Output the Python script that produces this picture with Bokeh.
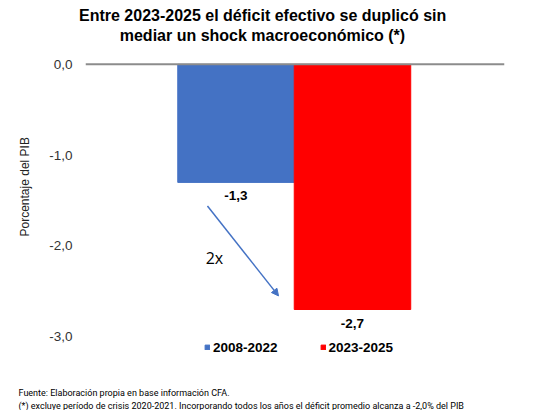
from bokeh.plotting import figure
from bokeh.models import (ColumnDataSource, Range1d, FixedTicker, Span, Label, Title,
                          Legend, LegendItem, Arrow, NormalHead)
from bokeh.core.properties import value
from bokeh.embed import file_html
from bokeh.resources import INLINE

# data
periods = ["2008-2022", "2023-2025"]
deficit = [-1.3, -2.7]
bar_labels = ["-1,3", "-2,7"]
colors = ["#4472C4", "#FF0000"]
y_ticks = [0, -1, -2, -3]
y_tick_labels = ["0,0", "-1,0", "-2,0", "-3,0"]

title_lines = ["Entre 2023-2025 el déficit efectivo se duplicó sin",
               "mediar un shock macroeconómico (*)"]
notes = ["Fuente: Elaboración propia en base información CFA.",
         "(*) excluye período de crisis 2020-2021. Incorporando todos los años el déficit promedio alcanza a -2,0% del PIB"]
y_title = "Porcentaje del PIB"

xs = list(range(len(periods)))
source = ColumnDataSource(data=dict(x=xs, top=deficit, label=bar_labels,
                                    color=colors, period=periods))

p = figure(frame_width=419, frame_height=357, output_backend="svg", toolbar_location=None,
           x_range=Range1d(-1.292, 2.305), y_range=Range1d(-3.537, 0.395),
           x_axis_type=None, min_border_left=85, min_border_right=16,
           min_border_top=0, min_border_bottom=0)
p.outline_line_color = None
p.grid.visible = False
p.background_fill_color = "white"

bars = p.vbar(x="x", top="top", bottom=0, width=1.0, color="color", source=source)

# value labels under the bars
p.text(x="x", y="top", text="label", source=source, text_align="center",
       text_baseline="top", y_offset=9, text_font=value("Liberation Sans"),
       text_font_size="13.5px", text_font_style="bold", text_color="black")

# zero line
p.add_layout(Span(location=0, dimension="width", line_color="#8c8c8c", line_width=2))

# y axis
yax = p.yaxis[0]
yax.ticker = FixedTicker(ticks=y_ticks)
yax.major_label_overrides = dict(zip(y_ticks, y_tick_labels))
yax.axis_line_color = None
yax.major_tick_line_color = None
yax.minor_tick_line_color = None
yax.major_tick_out = 0
yax.major_label_standoff = 13
yax.major_label_text_font = "Liberation Sans"
yax.major_label_text_font_size = "13.5px"
yax.major_label_text_color = "#333333"

p.add_layout(Title(text=y_title, align="left", offset=149, standoff=28,
                   vertical_align="middle", text_font="Liberation Sans",
                   text_font_size="12px", text_font_style="normal",
                   text_color="#222222"), "left")

# arrow and 2x annotation
p.add_layout(Arrow(end=NormalHead(size=7, fill_color="#4472C4", line_color="#4472C4"),
                   x_start=xs[0] - 0.245, y_start=deficit[0] - 0.26,
                   x_end=xs[1] - 0.635, y_end=deficit[1] + 0.15,
                   line_color="#4472C4", line_width=1.5))
p.text(x=[xs[0] - 0.185], y=[-2.13], text=["2x"], text_align="center",
       text_baseline="middle", text_font=value("Open Sans"), text_font_size="16px",
       text_color="black")

# legend
legend = Legend(items=[LegendItem(label=periods[i], renderers=[bars], index=i)
                       for i in range(len(periods))],
                orientation="horizontal", location=(119, 30), padding=0, margin=0,
                glyph_width=6, glyph_height=6, label_standoff=3, spacing=42,
                label_height=16, border_line_color=None, background_fill_alpha=0,
                label_text_font="Liberation Sans", label_text_font_size="13.5px",
                label_text_font_style="bold", label_text_color="black")
p.add_layout(legend)

# title: first line above the frame, second line just inside it
p.add_layout(Title(text=title_lines[0], align="left", offset=-6.5, standoff=9,
                   text_font="Liberation Sans", text_font_size="16px",
                   text_font_style="bold", text_color="black"), "above")
p.add_layout(Label(x=xs[0] + 0.227, y=0.315, text=title_lines[1],
                   text_align="center", text_baseline="middle",
                   text_font="Liberation Sans", text_font_size="16px",
                   text_font_style="bold", text_color="black"))

# footnotes
p.add_layout(Title(text=notes[0], align="left", offset=-67, standoff=1,
                   text_font="Roboto", text_font_size="9px",
                   text_font_style="normal", text_color="black"), "below")
p.add_layout(Title(text=notes[1], align="left", offset=-67, standoff=0,
                   text_font="Roboto", text_font_size="9px",
                   text_font_style="normal", text_color="black"), "below")

open("out.html", "w").write(file_html(p, INLINE))
